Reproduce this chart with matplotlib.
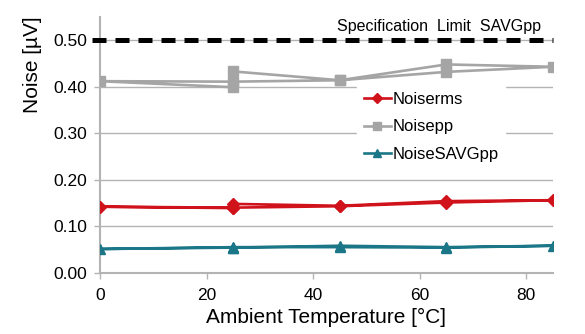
"""noise vs ambient temperature, with spec limit"""

import numpy as np
import matplotlib
matplotlib.use('Agg')
import matplotlib.pyplot as plt

plt.rcParams['font.family'] = ['Liberation Sans', 'DejaVu Sans']

# temperature sweep 25 -> 85 -> 0 -> 25 (degC)
temp = [25, 45, 65, 85, 65, 45, 25, 0, 25]
noiseRms = [0.148, 0.144, 0.154, 0.156, 0.151, 0.143, 0.140, 0.142, 0.139]
noisePP = [0.433, 0.414, 0.448, 0.443, 0.432, 0.414, 0.411, 0.412, 0.399]
noiseSAVGpp = [0.054, 0.058, 0.055, 0.058, 0.054, 0.055, 0.055, 0.051, 0.054]
specLimit = 0.50
specText = 'Specification  Limit  SAVGpp'

red = '#d0121b'
grey = '#a5a5a5'
teal = '#1b7787'
axcol = '#b3b3b3'

fig = plt.figure(figsize=(5.85, 3.34), dpi=100)
ax = fig.add_axes([0.171, 0.1835, 0.774, 0.7655])

ax.plot(temp, noiseRms, color=red, lw=1.9, marker='D', ms=6, label='Noiserms', zorder=4)
ax.plot(temp, noisePP, color=grey, lw=1.9, marker='s', ms=7.5, label='Noisepp', zorder=3)
ax.plot(temp, noiseSAVGpp, color=teal, lw=1.9, marker='^', ms=7.5, label='NoiseSAVGpp', zorder=4)
ax.plot([-1.5, 85], [specLimit, specLimit], color='black', lw=3.6,
        linestyle=(0, (2.8, 1.8)), clip_on=False, zorder=5)
ax.text(63.6, 0.530, specText, ha='center', va='center', fontsize=11.5)

ax.set_xlim(0, 85)
ax.set_ylim(0, 0.55)
ax.set_xticks(np.arange(0, 81, 20))
ax.set_yticks(np.arange(0, 0.51, 0.1))
ax.set_yticklabels(['%.2f' % v for v in np.arange(0, 0.51, 0.1)])
ax.yaxis.grid(True, color=axcol, lw=1.0)
ax.set_axisbelow(True)

for s in ['top', 'right']:
    ax.spines[s].set_visible(False)
for s in ['left', 'bottom']:
    ax.spines[s].set_color(axcol)
    ax.spines[s].set_linewidth(1.5)
ax.tick_params(axis='both', colors=axcol, labelcolor='black', labelsize=12.5, length=4, width=1)
ax.tick_params(axis='x', pad=7)
ax.tick_params(axis='y', pad=5)

ax.set_xlabel('Ambient Temperature [°C]', fontsize=15)
ax.set_ylabel('Noise [µV]', fontsize=15)
ax.xaxis.set_label_coords(0.5, -0.138)
ax.yaxis.set_label_coords(-0.128, 0.815)

leg = ax.legend(loc='center left', bbox_to_anchor=(0.55, 0.57), fontsize=12,
                frameon=True, facecolor='white', edgecolor='white', framealpha=1,
                fancybox=False, handlelength=1.6, handletextpad=0.1,
                labelspacing=0.75, borderpad=0.4, markerscale=0.8)
leg.set_zorder(6)

fig.savefig('out.png', dpi=100)
